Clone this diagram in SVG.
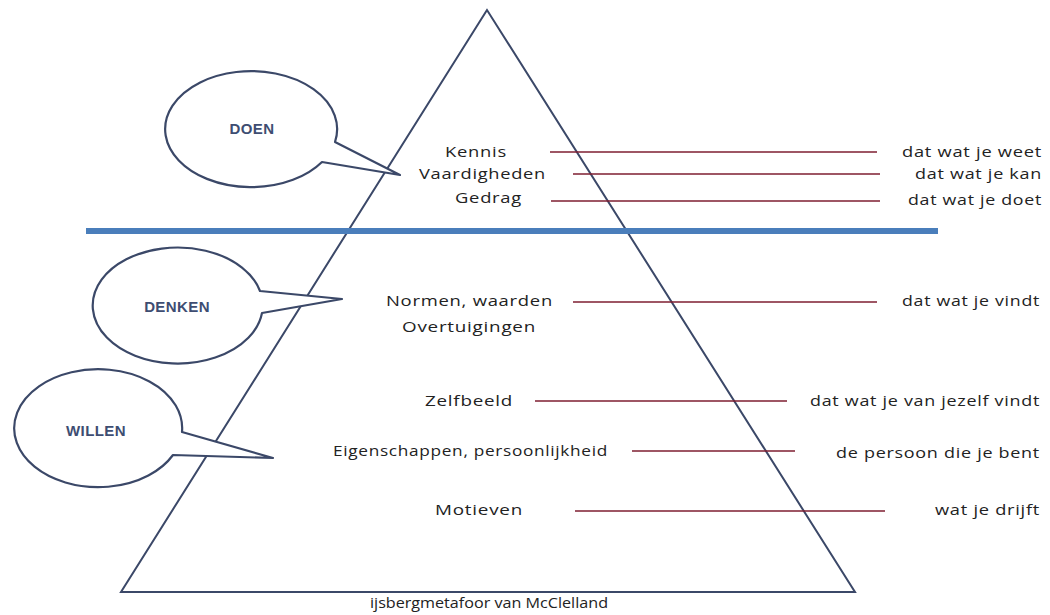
<svg xmlns="http://www.w3.org/2000/svg" width="1050" height="615" viewBox="0 0 1050 615">
<style>
.lbl{font-family:"Open Sans","Liberation Sans",sans-serif;font-size:15px;fill:#222;letter-spacing:0.6px}
.bt{font-family:"Liberation Sans",Arial,sans-serif;font-size:15px;font-weight:bold;fill:#3E4D72;text-anchor:middle;letter-spacing:0.4px}
.bub{fill:#fff;stroke:#3B4868;stroke-width:2.2;stroke-linejoin:round}
.red{stroke:#7E1E30;stroke-width:1.4}
</style>
<rect width="1050" height="615" fill="#fff"/>
<g id="triangle">
<polygon points="487,10 121,592 855,592" fill="none" stroke="#3B4868" stroke-width="2"/>
</g>
<g id="bubble-doen">
<path class="bub" d="M335,142 A86,58 0 1 0 322,162 L400,175 Z"/>
<text class="bt" x="252" y="134">DOEN</text>
</g>
<g id="bubble-denken">
<path class="bub" d="M260,291 A85,58 0 1 0 262,313 L342,299 Z"/>
<text class="bt" x="177" y="312">DENKEN</text>
</g>
<g id="bubble-willen">
<path class="bub" d="M182,432 A84,59 0 1 0 173,455 L273,458 Z"/>
<text class="bt" x="96" y="436">WILLEN</text>
</g>
<g id="connectors">
<line x1="86" y1="231" x2="938" y2="231" stroke="#4A7EBB" stroke-width="6"/>
<line class="red" x1="550" y1="152" x2="877" y2="152"/>
<line class="red" x1="573" y1="174" x2="880" y2="174"/>
<line class="red" x1="551" y1="201" x2="880" y2="201"/>
<line class="red" x1="573" y1="302" x2="877" y2="302"/>
<line class="red" x1="535" y1="401" x2="787" y2="401"/>
<line class="red" x1="632" y1="451" x2="795" y2="451"/>
<line class="red" x1="575" y1="511" x2="885" y2="511"/>
</g>
<g id="left-labels">
<text class="lbl" x="445" y="157" textLength="62" lengthAdjust="spacingAndGlyphs">Kennis</text>
<text class="lbl" x="419" y="179" textLength="127" lengthAdjust="spacingAndGlyphs">Vaardigheden</text>
<text class="lbl" x="455" y="203" textLength="67" lengthAdjust="spacingAndGlyphs">Gedrag</text>
<text class="lbl" x="386" y="306" textLength="167" lengthAdjust="spacingAndGlyphs">Normen, waarden</text>
<text class="lbl" x="402" y="332" textLength="134" lengthAdjust="spacingAndGlyphs">Overtuigingen</text>
<text class="lbl" x="425" y="406" textLength="88" lengthAdjust="spacingAndGlyphs">Zelfbeeld</text>
<text class="lbl" x="333" y="456" textLength="275" lengthAdjust="spacingAndGlyphs">Eigenschappen, persoonlijkheid</text>
<text class="lbl" x="435" y="515" textLength="88" lengthAdjust="spacingAndGlyphs">Motieven</text>
</g>
<g id="right-labels">
<text class="lbl" x="902" y="157" textLength="140" lengthAdjust="spacingAndGlyphs">dat wat je weet</text>
<text class="lbl" x="915" y="179" textLength="127" lengthAdjust="spacingAndGlyphs">dat wat je kan</text>
<text class="lbl" x="908" y="205" textLength="134" lengthAdjust="spacingAndGlyphs">dat wat je doet</text>
<text class="lbl" x="902" y="306" textLength="138" lengthAdjust="spacingAndGlyphs">dat wat je vindt</text>
<text class="lbl" x="810" y="406" textLength="230" lengthAdjust="spacingAndGlyphs">dat wat je van jezelf vindt</text>
<text class="lbl" x="836" y="458" textLength="204" lengthAdjust="spacingAndGlyphs">de persoon die je bent</text>
<text class="lbl" x="935" y="515" textLength="105" lengthAdjust="spacingAndGlyphs">wat je drijft</text>
</g>
<g id="caption">
<text class="lbl" x="370" y="608" textLength="238" lengthAdjust="spacingAndGlyphs" style="letter-spacing:0">ijsbergmetafoor van McClelland</text>
</g>
</svg>
